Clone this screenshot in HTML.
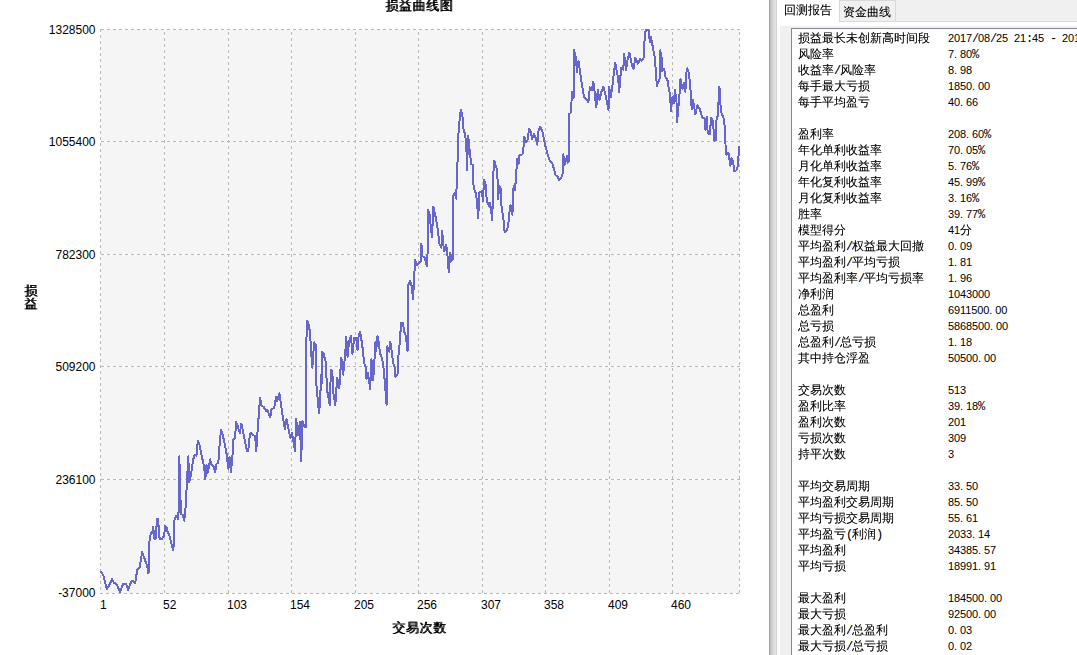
<!DOCTYPE html>
<html><head><meta charset="utf-8"><title>损益曲线图</title>
<style>
html,body{margin:0;padding:0;background:#fff;}
body{width:1077px;height:655px;position:relative;overflow:hidden;font-family:"Liberation Sans","WenQuanYi Zen Hei",sans-serif;}
#chart{position:absolute;left:0;top:0;width:769px;height:655px;}
#chart text{font-family:"Liberation Sans",sans-serif;font-size:12px;fill:#000;}
.t{position:absolute;font-family:"Liberation Sans","WenQuanYi Zen Hei",sans-serif;font-size:13px;line-height:13px;letter-spacing:0.6px;text-shadow:1px 0 0 #000;white-space:nowrap;color:#000;}
#t1{left:385px;top:-1px;}
#t2{left:392px;top:621px;}
#t3{left:24px;top:284px;}
#split{position:absolute;left:769px;top:0;width:8px;height:655px;background:linear-gradient(to right,#a2a2a2 0px,#a2a2a2 1px,#c2c2c2 1px,#c2c2c2 2px,#cbcbcb 2px,#cbcbcb 3px,#d2d2d2 3px,#d2d2d2 4px,#d9d9d9 4px,#d9d9d9 5px,#dedede 5px,#dedede 6px,#e3e3e3 6px,#e3e3e3 7px,#d2d2d2 7px,#d2d2d2 8px);}
#tabs{position:absolute;left:777px;top:0;width:300px;height:26px;background:#fff;}
#gap{position:absolute;left:777px;top:0;width:3px;height:655px;background:#fbfbfb;}
#strip{position:absolute;left:62px;top:0;width:238px;height:21px;background:#f0f0f0;border-bottom:1px solid #d9d9d9;}
#tab1{position:absolute;left:7px;top:4px;font-size:12px;line-height:12px;white-space:nowrap;}
#tab2{position:absolute;left:62px;top:0;width:55px;height:20px;background:#f0f0f0;border:1px solid #d9d9d9;font-size:12px;line-height:12px;white-space:nowrap;}
#tab2 span{position:absolute;left:3px;top:5px;}
#panel{position:absolute;left:780px;top:26px;width:297px;height:629px;background:#f0f0f0;}
#list{position:absolute;left:11px;top:2px;width:300px;height:640px;background:#fff;border:1px solid #828790;}
.l,.v b,#tab1,#tab2{text-shadow:0 0 0 rgba(0,0,0,.3);}
.r{position:relative;height:16px;line-height:16px;font-size:12px;white-space:nowrap;}
.l{position:absolute;left:6px;top:1px;}
.v{position:absolute;left:156px;top:1px;font-family:"Liberation Sans","WenQuanYi Zen Hei",sans-serif;font-size:11px;letter-spacing:-0.12px;white-space:pre;}
.v b{font-weight:normal;letter-spacing:0;font-size:12px;font-family:"Liberation Sans","WenQuanYi Zen Hei",sans-serif;}
.v u{text-decoration:none;letter-spacing:2.94px;}
.l i,.v i{font-style:normal;font-size:12px;font-family:"Liberation Mono",monospace;letter-spacing:-1.2px;}
</style></head><body>
<svg id="chart" width="769" height="655" viewBox="0 0 769 655">
<rect x="101" y="30" width="638" height="563" fill="#f5f5f5"/>
<g stroke="#ffffff" stroke-width="1" fill="none" shape-rendering="crispEdges">
<line x1="100.5" y1="29" x2="100.5" y2="594"/>
<line x1="164.5" y1="29" x2="164.5" y2="594"/>
<line x1="228.5" y1="29" x2="228.5" y2="594"/>
<line x1="291.5" y1="29" x2="291.5" y2="594"/>
<line x1="355.5" y1="29" x2="355.5" y2="594"/>
<line x1="418.5" y1="29" x2="418.5" y2="594"/>
<line x1="482.5" y1="29" x2="482.5" y2="594"/>
<line x1="545.5" y1="29" x2="545.5" y2="594"/>
<line x1="609.5" y1="29" x2="609.5" y2="594"/>
<line x1="672.5" y1="29" x2="672.5" y2="594"/>
<line x1="739.5" y1="29" x2="739.5" y2="594"/>
<line x1="100" y1="29.5" x2="740" y2="29.5"/>
<line x1="100" y1="141.5" x2="740" y2="141.5"/>
<line x1="100" y1="254.5" x2="740" y2="254.5"/>
<line x1="100" y1="366.5" x2="740" y2="366.5"/>
<line x1="100" y1="479.5" x2="740" y2="479.5"/>
<line x1="100" y1="593.5" x2="740" y2="593.5"/>
</g>
<g stroke="#b8b8b8" stroke-width="1" stroke-dasharray="3,3" fill="none" shape-rendering="crispEdges">
<line x1="100.5" y1="29" x2="100.5" y2="594"/>
<line x1="164.5" y1="32" x2="164.5" y2="594"/>
<line x1="228.5" y1="32" x2="228.5" y2="594"/>
<line x1="291.5" y1="32" x2="291.5" y2="594"/>
<line x1="355.5" y1="32" x2="355.5" y2="594"/>
<line x1="418.5" y1="32" x2="418.5" y2="594"/>
<line x1="482.5" y1="32" x2="482.5" y2="594"/>
<line x1="545.5" y1="32" x2="545.5" y2="594"/>
<line x1="609.5" y1="32" x2="609.5" y2="594"/>
<line x1="672.5" y1="32" x2="672.5" y2="594"/>
<line x1="739.5" y1="32" x2="739.5" y2="594"/>
<line x1="101" y1="29.5" x2="740" y2="29.5"/>
<line x1="101" y1="141.5" x2="740" y2="141.5"/>
<line x1="101" y1="254.5" x2="740" y2="254.5"/>
<line x1="101" y1="366.5" x2="740" y2="366.5"/>
<line x1="101" y1="479.5" x2="740" y2="479.5"/>
<line x1="100" y1="593.5" x2="740" y2="593.5"/>
</g>
<clipPath id="cp"><rect x="100" y="29" width="640" height="565"/></clipPath>
<polyline clip-path="url(#cp)" fill="none" stroke="#6666cc" stroke-width="2" stroke-linejoin="round" shape-rendering="crispEdges" points="100.6,571.0 103.2,575.0 106.9,589.1 109.9,583.9 112.1,578.7 113.6,582.5 116.5,583.9 120.0,592.1 123.2,583.9 126.2,583.9 128.0,589.9 131.4,581.4 132.9,581.0 135.1,583.2 137.3,569.8 139.6,567.6 142.2,552.0 144.8,559.4 147.0,565.4 148.5,573.5 149.2,543.1 150.7,533.4 152.2,532.7 153.2,526.7 154.4,538.6 155.6,538.6 157.1,518.6 158.1,519.3 159.6,538.6 161.9,538.9 164.1,535.7 165.1,526.0 166.3,526.7 167.8,532.7 169.3,534.9 173.0,549.8 174.0,544.6 174.5,520.1 176.0,515.6 178.2,519.3 179.1,500.0 179.3,456.4 180.9,514.0 182.7,514.8 184.2,520.7 185.7,505.9 187.1,479.4 188.3,456.4 189.1,482.4 190.9,475.0 193.1,460.1 194.6,454.9 196.4,455.7 197.8,440.8 199.8,446.0 202.0,457.1 204.2,467.5 205.3,479.4 206.5,464.6 207.9,472.7 210.2,459.4 211.7,465.3 213.6,466.1 215.1,472.0 216.6,463.8 218.3,463.1 219.5,446.0 221.0,429.7 222.8,434.9 224.3,442.3 226.5,453.4 228.4,469.0 229.5,457.1 231.0,472.0 232.5,455.7 233.5,439.3 235.0,437.8 236.2,422.2 237.7,425.9 239.9,433.4 241.4,423.7 242.9,430.4 245.1,442.3 246.9,451.2 248.3,450.5 249.2,439.3 250.7,432.6 253.2,434.9 255.2,436.3 256.2,451.2 257.3,434.9 258.4,420.0 260.1,397.5 261.5,405.7 263.8,407.1 266.0,410.9 267.5,410.1 270.2,417.5 271.5,409.4 274.2,407.9 276.0,396.7 277.1,401.2 279.4,393.0 280.9,404.2 283.1,419.0 284.9,429.4 286.4,419.0 288.3,427.9 290.5,438.3 292.0,432.4 295.0,451.0 296.2,419.0 298.2,435.4 299.9,422.0 301.2,460.9 302.4,421.3 304.6,427.2 306.4,426.5 306.4,370.0 306.0,352.3 307.1,320.4 308.6,324.9 310.1,332.3 310.8,346.4 312.3,367.9 314.1,342.4 315.6,344.9 316.0,379.8 318.2,405.1 319.1,413.1 320.3,399.7 320.9,374.5 321.5,385.8 322.1,351.6 323.4,353.1 325.7,362.0 327.1,390.2 329.8,405.1 330.9,369.4 332.3,370.9 333.1,391.0 335.3,405.1 337.2,377.6 339.3,388.0 341.3,357.5 343.2,374.6 345.3,353.1 346.2,336.7 347.6,356.8 349.1,341.2 350.9,335.6 352.4,353.8 354.2,337.5 356.1,337.5 357.6,350.1 358.6,336.0 360.1,332.0 361.3,339.0 362.8,349.4 364.0,362.7 365.8,367.2 366.5,379.1 368.0,373.1 370.2,389.5 371.4,359.0 373.2,379.8 374.4,361.3 375.4,341.9 376.2,351.6 377.4,336.0 378.8,341.9 379.9,353.1 382.1,358.3 383.9,370.9 385.1,385.8 386.6,405.1 387.3,393.2 387.3,346.4 389.2,351.6 390.3,341.9 391.8,352.3 393.2,363.5 394.7,367.2 395.5,376.9 397.7,373.9 398.4,356.1 399.9,341.2 401.1,322.6 402.9,322.6 404.4,332.3 405.9,336.0 407.4,350.9 408.4,350.1 408.4,310.0 408.1,285.9 409.9,280.7 411.6,285.9 413.1,299.3 414.0,280.0 415.1,259.9 416.5,265.1 418.8,262.9 420.6,261.4 421.4,243.6 422.5,256.2 424.7,257.7 426.9,265.9 428.0,244.3 428.0,225.0 428.0,209.5 429.5,214.3 431.0,229.1 432.1,236.9 433.3,206.6 435.1,214.3 437.3,226.2 439.6,244.3 441.4,248.0 442.2,230.9 443.3,244.3 444.3,251.0 446.3,245.0 447.3,253.2 448.8,272.2 450.3,252.5 451.5,260.6 453.2,259.1 453.2,195.7 454.7,193.5 456.2,198.7 457.4,162.3 457.5,162.6 458.1,138.1 459.3,123.2 460.8,109.9 462.3,114.3 463.5,129.2 465.3,135.1 466.4,147.0 467.0,170.0 468.2,135.9 469.7,151.5 471.2,164.1 472.7,164.8 473.0,182.7 474.9,192.0 475.2,190.5 476.7,199.4 478.2,218.0 479.4,192.0 481.9,191.3 482.9,200.9 484.1,179.4 485.6,184.6 486.8,200.9 489.3,206.9 490.1,202.4 492.3,220.2 493.1,177.1 494.2,160.5 496.0,166.7 497.2,169.7 498.2,199.4 499.0,186.1 500.5,187.5 501.2,203.9 503.4,218.7 504.6,232.1 507.2,229.9 508.6,221.7 510.1,205.4 511.6,206.9 512.4,215.0 513.6,186.1 515.0,190.5 516.1,175.7 517.1,159.3 518.6,163.8 519.5,154.9 522.5,154.4 523.5,147.0 524.4,136.6 525.9,142.2 527.7,139.6 529.1,128.9 530.9,132.1 532.1,139.6 533.9,133.9 535.8,138.1 537.3,144.8 538.3,131.4 540.3,126.9 542.2,130.7 544.0,139.6 545.8,147.7 547.7,154.4 549.6,160.4 552.2,163.3 553.6,167.8 555.6,175.2 557.4,176.0 559.3,180.4 561.1,178.2 562.6,173.7 563.3,154.4 564.8,164.8 567.0,155.9 567.8,162.6 569.0,160.4 569.0,114.3 570.7,112.8 571.5,101.7 572.1,91.9 573.6,97.8 574.0,50.3 575.8,57.0 577.0,71.8 578.5,61.0 580.0,71.1 581.7,83.0 584.0,97.1 586.2,99.3 588.4,102.3 589.9,87.4 591.8,90.4 593.3,81.5 594.4,90.4 596.3,107.5 597.8,89.7 599.6,100.1 601.4,91.9 603.3,86.7 605.2,93.4 607.0,102.3 608.5,109.7 609.2,86.7 610.7,97.1 612.2,87.4 613.2,78.5 615.2,62.5 616.7,71.1 618.1,77.8 619.2,91.9 621.1,68.1 623.3,69.6 624.1,53.6 626.0,70.3 627.5,59.9 629.3,52.5 630.8,59.2 632.0,65.9 633.7,68.9 635.2,57.7 636.4,59.9 637.9,63.7 640.0,59.2 641.9,60.7 643.8,57.7 644.9,32.5 646.4,29.5 648.6,30.2 649.8,42.1 650.8,36.9 652.3,44.3 654.5,56.2 656.0,72.6 656.8,85.9 659.0,80.7 660.2,77.0 660.2,50.3 661.7,57.7 662.3,71.1 664.2,68.9 665.7,78.5 667.2,78.5 668.6,87.4 670.1,94.9 670.9,111.2 672.4,97.1 673.8,103.0 675.0,89.7 676.5,102.3 677.1,121.9 678.3,108.2 679.8,90.4 680.5,79.3 682.5,88.9 684.0,83.0 685.4,91.9 686.0,75.5 687.2,68.4 688.7,72.6 690.2,85.2 690.9,96.3 691.7,109.0 692.9,100.1 695.4,114.2 697.3,105.3 699.8,109.0 701.3,114.2 702.4,117.9 704.7,118.4 705.5,130.3 706.7,116.9 707.7,133.3 709.9,134.0 711.1,117.7 712.9,120.7 714.4,140.7 715.9,140.0 716.6,116.9 718.1,116.2 718.4,104.3 719.1,87.2 720.0,89.5 720.6,107.3 721.8,114.7 723.3,116.9 724.8,126.6 725.5,144.4 726.3,154.8 728.5,152.6 730.4,166.0 731.5,157.8 733.0,160.8 734.4,171.2 736.4,170.4 737.9,166.0 738.5,156.3 738.9,145.9"/>
<text x="100" y="609">1</text>
<text x="163" y="609">52</text>
<text x="227" y="609">103</text>
<text x="290" y="609">154</text>
<text x="354" y="609">205</text>
<text x="417" y="609">256</text>
<text x="481" y="609">307</text>
<text x="544" y="609">358</text>
<text x="608" y="609">409</text>
<text x="671" y="609">460</text>
<text x="95.5" y="34.0" text-anchor="end">1328500</text>
<text x="95.5" y="146.0" text-anchor="end">1055400</text>
<text x="95.5" y="259.0" text-anchor="end">782300</text>
<text x="95.5" y="371.0" text-anchor="end">509200</text>
<text x="95.5" y="484.0" text-anchor="end">236100</text>
<text x="95.5" y="597.0" text-anchor="end">-37000</text>
</svg>
<div class="t" id="t1">损益曲线图</div><div class="t" id="t2">交易次数</div><div class="t" id="t3">损<br>益</div>
<div id="split"></div><div id="gap"></div>
<div id="tabs"><div id="strip"></div><div id="tab1">回测报告</div><div id="tab2"><span>资金曲线</span></div></div>
<div id="panel"><div id="list">
<div class="r"><span class="l">损益最长未创新高时间段</span><span class="v">2017<i>/</i>08<i>/</i>25<i> </i>21<i>:</i>45<i> - </i>2017<i>/</i>11<i>/</i>20</span></div>
<div class="r"><span class="l">风险率</span><span class="v">7<u>.</u>80<i>%</i></span></div>
<div class="r"><span class="l">收益率<i>/</i>风险率</span><span class="v">8<u>.</u>98</span></div>
<div class="r"><span class="l">每手最大亏损</span><span class="v">1850<u>.</u>00</span></div>
<div class="r"><span class="l">每手平均盈亏</span><span class="v">40<u>.</u>66</span></div>
<div class="r">&nbsp;</div>
<div class="r"><span class="l">盈利率</span><span class="v">208<u>.</u>60<i>%</i></span></div>
<div class="r"><span class="l">年化单利收益率</span><span class="v">70<u>.</u>05<i>%</i></span></div>
<div class="r"><span class="l">月化单利收益率</span><span class="v">5<u>.</u>76<i>%</i></span></div>
<div class="r"><span class="l">年化复利收益率</span><span class="v">45<u>.</u>99<i>%</i></span></div>
<div class="r"><span class="l">月化复利收益率</span><span class="v">3<u>.</u>16<i>%</i></span></div>
<div class="r"><span class="l">胜率</span><span class="v">39<u>.</u>77<i>%</i></span></div>
<div class="r"><span class="l">模型得分</span><span class="v">41<b>分</b></span></div>
<div class="r"><span class="l">平均盈利<i>/</i>权益最大回撤</span><span class="v">0<u>.</u>09</span></div>
<div class="r"><span class="l">平均盈利<i>/</i>平均亏损</span><span class="v">1<u>.</u>81</span></div>
<div class="r"><span class="l">平均盈利率<i>/</i>平均亏损率</span><span class="v">1<u>.</u>96</span></div>
<div class="r"><span class="l">净利润</span><span class="v">1043000</span></div>
<div class="r"><span class="l">总盈利</span><span class="v">6911500<u>.</u>00</span></div>
<div class="r"><span class="l">总亏损</span><span class="v">5868500<u>.</u>00</span></div>
<div class="r"><span class="l">总盈利<i>/</i>总亏损</span><span class="v">1<u>.</u>18</span></div>
<div class="r"><span class="l">其中持仓浮盈</span><span class="v">50500<u>.</u>00</span></div>
<div class="r">&nbsp;</div>
<div class="r"><span class="l">交易次数</span><span class="v">513</span></div>
<div class="r"><span class="l">盈利比率</span><span class="v">39<u>.</u>18<i>%</i></span></div>
<div class="r"><span class="l">盈利次数</span><span class="v">201</span></div>
<div class="r"><span class="l">亏损次数</span><span class="v">309</span></div>
<div class="r"><span class="l">持平次数</span><span class="v">3</span></div>
<div class="r">&nbsp;</div>
<div class="r"><span class="l">平均交易周期</span><span class="v">33<u>.</u>50</span></div>
<div class="r"><span class="l">平均盈利交易周期</span><span class="v">85<u>.</u>50</span></div>
<div class="r"><span class="l">平均亏损交易周期</span><span class="v">55<u>.</u>61</span></div>
<div class="r"><span class="l">平均盈亏<i>(</i>利润<i>)</i></span><span class="v">2033<u>.</u>14</span></div>
<div class="r"><span class="l">平均盈利</span><span class="v">34385<u>.</u>57</span></div>
<div class="r"><span class="l">平均亏损</span><span class="v">18991<u>.</u>91</span></div>
<div class="r">&nbsp;</div>
<div class="r"><span class="l">最大盈利</span><span class="v">184500<u>.</u>00</span></div>
<div class="r"><span class="l">最大亏损</span><span class="v">92500<u>.</u>00</span></div>
<div class="r"><span class="l">最大盈利<i>/</i>总盈利</span><span class="v">0<u>.</u>03</span></div>
<div class="r"><span class="l">最大亏损<i>/</i>总亏损</span><span class="v">0<u>.</u>02</span></div>
</div></div>
</body></html>
